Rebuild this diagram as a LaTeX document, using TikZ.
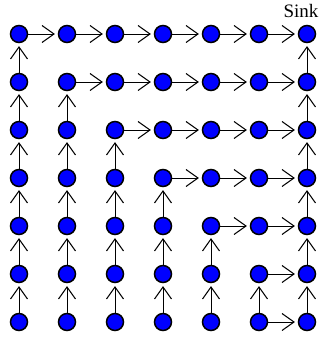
\documentclass[tikz,border=0pt]{standalone}
\usepackage{fontspec}
\setmainfont{Liberation Serif}
\usetikzlibrary{calc}
\newcommand{\myconn}[2]{%
  \draw[connline] (#1) -- ($(#2.center)!13pt!(#1.center)$) coordinate (tip);
  \draw[connhead] ($(tip)!14.7pt!35.3:(#1.center)$) -- (tip) -- ($(tip)!14.7pt!-35.3:(#1.center)$);
}
\begin{document}
\begin{tikzpicture}[x=1pt,y=-1pt,
  dot/.style={circle,draw=black,fill=blue,line width=1.5pt,minimum size=17pt,inner sep=0pt},
  connline/.style={line width=0.95pt},
  connhead/.style={line width=1.05pt,line join=miter}]
\useasboundingbox (0,0) rectangle (321,337);
\foreach \i in {0,...,6}{
  \foreach \j in {0,...,6}{
    \node[dot] (n-\i-\j) at ({19+48*\i},{34+48*\j}) {};
  }
}
\node[font=\fontsize{19}{22}\selectfont,inner sep=0pt,anchor=base] (sink) at (301,18) {Sink};
\foreach \k in {0,...,5}{
  \pgfmathtruncatemacro{\kp}{\k+1}
  \foreach \j in {6,...,\kp}{
    \pgfmathtruncatemacro{\jm}{\j-1}
    \myconn{n-\k-\j}{n-\k-\jm}
  }
  \foreach \i in {\k,...,5}{
    \pgfmathtruncatemacro{\ip}{\i+1}
    \myconn{n-\i-\k}{n-\ip-\k}
  }
}
\foreach \j in {6,...,1}{
  \pgfmathtruncatemacro{\jm}{\j-1}
  \myconn{n-6-\j}{n-6-\jm}
}
\myconn{n-5-6}{n-6-6}
\end{tikzpicture}
\end{document}
